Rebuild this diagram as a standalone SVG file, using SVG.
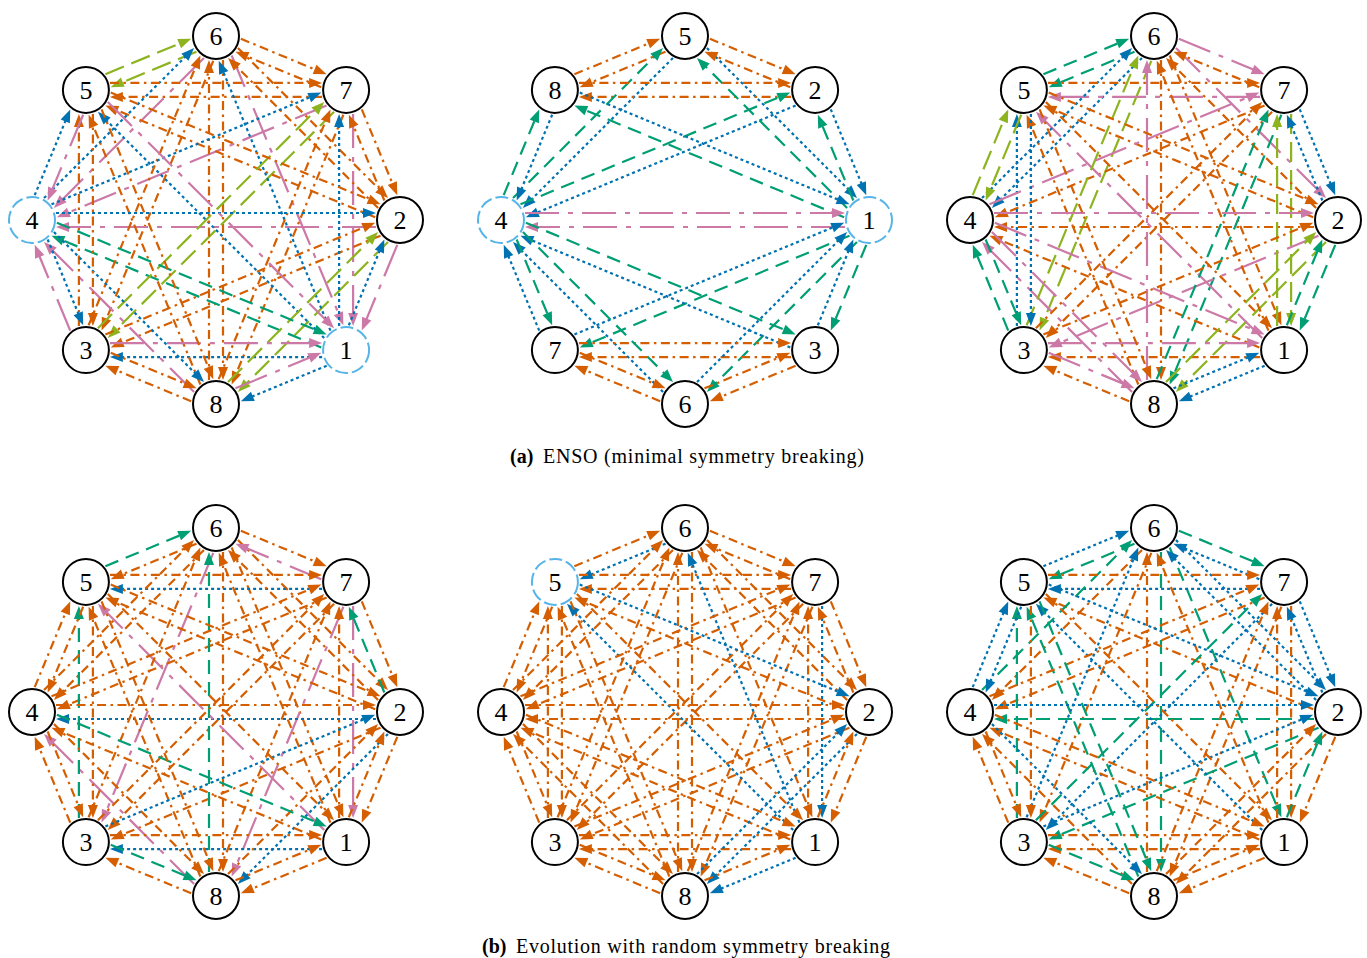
<svg xmlns="http://www.w3.org/2000/svg" width="1367" height="958" viewBox="0 0 1367 958">
<style>
  .edges use{fill:none;stroke-width:2.2}
  .o{stroke:#d55e00;stroke-dasharray:9 4.5 2.5 4.5;marker-end:url(#mo)}
  .b{stroke:#0072b2;stroke-dasharray:3 3;marker-end:url(#mb)}
  .g{stroke:#009e73;stroke-dasharray:14 8;marker-end:url(#mg)}
  .p{stroke:#cc79a7;stroke-dasharray:34 9 5 9;marker-end:url(#mp)}
  .l{stroke:#8db41e;stroke-dasharray:20 8;marker-end:url(#ml)}
  .node circle{fill:#fff;stroke:#000;stroke-width:2}
  .node.hl circle{stroke:#56b4e9;stroke-dasharray:13 4}
  .node text{font-family:"Liberation Serif","Times New Roman",serif;font-size:26px;text-anchor:middle;fill:#000}
  .cap{font-family:"Liberation Serif","Times New Roman",serif;font-size:20px;fill:#000}
</style>
<defs>
  <marker id="mo" markerUnits="userSpaceOnUse" markerWidth="14" markerHeight="11" refX="2" refY="5" orient="auto" overflow="visible"><path d="M0,0L13,5L0,10z" fill="#d55e00"/></marker>
  <marker id="mb" markerUnits="userSpaceOnUse" markerWidth="14" markerHeight="11" refX="2" refY="5" orient="auto" overflow="visible"><path d="M0,0L13,5L0,10z" fill="#0072b2"/></marker>
  <marker id="mg" markerUnits="userSpaceOnUse" markerWidth="14" markerHeight="11" refX="2" refY="5" orient="auto" overflow="visible"><path d="M0,0L13,5L0,10z" fill="#009e73"/></marker>
  <marker id="mp" markerUnits="userSpaceOnUse" markerWidth="14" markerHeight="11" refX="2" refY="5" orient="auto" overflow="visible"><path d="M0,0L13,5L0,10z" fill="#cc79a7"/></marker>
  <marker id="ml" markerUnits="userSpaceOnUse" markerWidth="14" markerHeight="11" refX="2" refY="5" orient="auto" overflow="visible"><path d="M0,0L13,5L0,10z" fill="#8db41e"/></marker>
  <!-- directed edge from the top slot to slot k of the octagon (radius 184), shifted to its left -->
  <path id="s1" d="M24.85,-181.29L100.45,-149.97"/>
  <path id="s2" d="M21.92,-171.98L164.2,-29.7"/>
  <path id="s3" d="M15.65,-164.51L123.19,95.09"/>
  <path id="s4" d="M7,-160L7,149"/>
  <path id="s5" d="M-2.71,-159.15L-110.25,100.45"/>
  <path id="s6" d="M-12.02,-162.08L-154.3,-19.8"/>
  <path id="s7" d="M-19.49,-168.35L-95.09,-137.03"/>
</defs>

<!-- ===== (a) left ===== -->
<g id="a1-edges" class="edges" transform="translate(216,220)">
  <g><use href="#s1" class="o"/><use href="#s2" class="o"/><use href="#s3" class="p"/><use href="#s4" class="o"/><use href="#s5" class="o"/><use href="#s6" class="p"/><use href="#s7" class="l"/></g>
  <g transform="rotate(45)"><use href="#s1" class="o"/><use href="#s2" class="p"/><use href="#s3" class="o"/><use href="#s4" class="l"/><use href="#s5" class="p"/><use href="#s6" class="o"/><use href="#s7" class="o"/></g>
  <g transform="rotate(90)"><use href="#s1" class="p"/><use href="#s2" class="l"/><use href="#s3" class="o"/><use href="#s4" class="p"/><use href="#s5" class="o"/><use href="#s6" class="o"/><use href="#s7" class="o"/></g>
  <g transform="rotate(135)"><use href="#s1" class="b"/><use href="#s2" class="b"/><use href="#s3" class="g"/><use href="#s4" class="b"/><use href="#s5" class="b"/><use href="#s6" class="b"/><use href="#s7" class="b"/></g>
  <g transform="rotate(180)"><use href="#s1" class="o"/><use href="#s2" class="p"/><use href="#s3" class="o"/><use href="#s4" class="o"/><use href="#s5" class="o"/><use href="#s6" class="l"/><use href="#s7" class="p"/></g>
  <g transform="rotate(225)"><use href="#s1" class="p"/><use href="#s2" class="o"/><use href="#s3" class="o"/><use href="#s4" class="l"/><use href="#s5" class="o"/><use href="#s6" class="p"/><use href="#s7" class="o"/></g>
  <g transform="rotate(270)"><use href="#s1" class="b"/><use href="#s2" class="b"/><use href="#s3" class="b"/><use href="#s4" class="b"/><use href="#s5" class="g"/><use href="#s6" class="b"/><use href="#s7" class="b"/></g>
  <g transform="rotate(315)"><use href="#s1" class="l"/><use href="#s2" class="o"/><use href="#s3" class="o"/><use href="#s4" class="p"/><use href="#s5" class="o"/><use href="#s6" class="o"/><use href="#s7" class="p"/></g>
</g>
<g id="a1-n6" class="node" transform="translate(216,36)"><circle r="23"/><text y="9">6</text></g>
<g id="a1-n7" class="node" transform="translate(346.1,89.9)"><circle r="23"/><text y="9">7</text></g>
<g id="a1-n2" class="node" transform="translate(400,220)"><circle r="23"/><text y="9">2</text></g>
<g id="a1-n1" class="node hl" transform="translate(346.1,350.1)"><circle r="23"/><text y="9">1</text></g>
<g id="a1-n8" class="node" transform="translate(216,404)"><circle r="23"/><text y="9">8</text></g>
<g id="a1-n3" class="node" transform="translate(85.9,350.1)"><circle r="23"/><text y="9">3</text></g>
<g id="a1-n4" class="node hl" transform="translate(32,220)"><circle r="23"/><text y="9">4</text></g>
<g id="a1-n5" class="node" transform="translate(85.9,89.9)"><circle r="23"/><text y="9">5</text></g>

<!-- ===== (a) middle ===== -->
<g id="a2-edges" class="edges" transform="translate(685,220)">
  <g><use href="#s7" class="o"/><use href="#s1" class="o"/><use href="#s6" class="b"/><use href="#s2" class="b"/></g>
  <g transform="rotate(45)"><use href="#s7" class="o"/><use href="#s6" class="o"/><use href="#s5" class="b"/><use href="#s1" class="b"/></g>
  <g transform="rotate(90)"><use href="#s6" class="g"/><use href="#s5" class="g"/><use href="#s7" class="g"/><use href="#s4" class="p"/><use href="#s3" class="g"/><use href="#s2" class="g"/><use href="#s1" class="g"/></g>
  <g transform="rotate(135)"><use href="#s3" class="b"/><use href="#s7" class="b"/><use href="#s2" class="o"/><use href="#s1" class="o"/></g>
  <g transform="rotate(180)"><use href="#s2" class="b"/><use href="#s6" class="b"/><use href="#s1" class="o"/><use href="#s7" class="o"/></g>
  <g transform="rotate(225)"><use href="#s1" class="b"/><use href="#s5" class="b"/><use href="#s6" class="o"/><use href="#s7" class="o"/></g>
  <g transform="rotate(270)"><use href="#s2" class="g"/><use href="#s3" class="g"/><use href="#s1" class="g"/><use href="#s4" class="p"/><use href="#s7" class="g"/><use href="#s6" class="g"/><use href="#s5" class="g"/></g>
  <g transform="rotate(315)"><use href="#s1" class="o"/><use href="#s2" class="o"/><use href="#s7" class="b"/><use href="#s3" class="b"/></g>
</g>
<g id="a2-n5" class="node" transform="translate(685,36)"><circle r="23"/><text y="9">5</text></g>
<g id="a2-n2" class="node" transform="translate(815.1,89.9)"><circle r="23"/><text y="9">2</text></g>
<g id="a2-n1" class="node hl" transform="translate(869,220)"><circle r="23"/><text y="9">1</text></g>
<g id="a2-n3" class="node" transform="translate(815.1,350.1)"><circle r="23"/><text y="9">3</text></g>
<g id="a2-n6" class="node" transform="translate(685,404)"><circle r="23"/><text y="9">6</text></g>
<g id="a2-n7" class="node" transform="translate(554.9,350.1)"><circle r="23"/><text y="9">7</text></g>
<g id="a2-n4" class="node hl" transform="translate(501,220)"><circle r="23"/><text y="9">4</text></g>
<g id="a2-n8" class="node" transform="translate(554.9,89.9)"><circle r="23"/><text y="9">8</text></g>

<!-- ===== (a) right ===== -->
<g id="a3-edges" class="edges" transform="translate(1154,220)">
  <g><use href="#s1" class="p"/><use href="#s2" class="p"/><use href="#s3" class="o"/><use href="#s4" class="o"/><use href="#s5" class="l"/><use href="#s6" class="b"/><use href="#s7" class="g"/></g>
  <g transform="rotate(45)"><use href="#s1" class="b"/><use href="#s2" class="l"/><use href="#s3" class="g"/><use href="#s4" class="o"/><use href="#s5" class="o"/><use href="#s6" class="p"/><use href="#s7" class="o"/></g>
  <g transform="rotate(90)"><use href="#s1" class="g"/><use href="#s2" class="l"/><use href="#s3" class="p"/><use href="#s4" class="o"/><use href="#s5" class="o"/><use href="#s6" class="o"/><use href="#s7" class="b"/></g>
  <g transform="rotate(135)"><use href="#s1" class="b"/><use href="#s2" class="o"/><use href="#s3" class="o"/><use href="#s4" class="p"/><use href="#s5" class="o"/><use href="#s6" class="l"/><use href="#s7" class="g"/></g>
  <g transform="rotate(180)"><use href="#s1" class="o"/><use href="#s2" class="p"/><use href="#s3" class="o"/><use href="#s4" class="p"/><use href="#s5" class="g"/><use href="#s6" class="l"/><use href="#s7" class="b"/></g>
  <g transform="rotate(225)"><use href="#s1" class="g"/><use href="#s2" class="b"/><use href="#s3" class="l"/><use href="#s4" class="o"/><use href="#s5" class="o"/><use href="#s6" class="p"/><use href="#s7" class="p"/></g>
  <g transform="rotate(270)"><use href="#s1" class="l"/><use href="#s2" class="b"/><use href="#s3" class="p"/><use href="#s4" class="p"/><use href="#s5" class="p"/><use href="#s6" class="p"/><use href="#s7" class="g"/></g>
  <g transform="rotate(315)"><use href="#s1" class="g"/><use href="#s2" class="o"/><use href="#s3" class="o"/><use href="#s4" class="o"/><use href="#s5" class="o"/><use href="#s6" class="b"/><use href="#s7" class="l"/></g>
</g>
<g id="a3-n6" class="node" transform="translate(1154,36)"><circle r="23"/><text y="9">6</text></g>
<g id="a3-n7" class="node" transform="translate(1284.1,89.9)"><circle r="23"/><text y="9">7</text></g>
<g id="a3-n2" class="node" transform="translate(1338,220)"><circle r="23"/><text y="9">2</text></g>
<g id="a3-n1" class="node" transform="translate(1284.1,350.1)"><circle r="23"/><text y="9">1</text></g>
<g id="a3-n8" class="node" transform="translate(1154,404)"><circle r="23"/><text y="9">8</text></g>
<g id="a3-n3" class="node" transform="translate(1023.9,350.1)"><circle r="23"/><text y="9">3</text></g>
<g id="a3-n4" class="node" transform="translate(970,220)"><circle r="23"/><text y="9">4</text></g>
<g id="a3-n5" class="node" transform="translate(1023.9,89.9)"><circle r="23"/><text y="9">5</text></g>

<text class="cap" x="510" y="463" font-weight="bold">(a)</text>
<text class="cap" x="543" y="463" textLength="321" lengthAdjust="spacing">ENSO (minimal symmetry breaking)</text>

<!-- ===== (b) left ===== -->
<g id="b1-edges" class="edges" transform="translate(216,712)">
  <g><use href="#s1" class="o"/><use href="#s2" class="o"/><use href="#s3" class="o"/><use href="#s4" class="o"/><use href="#s5" class="p"/><use href="#s6" class="o"/><use href="#s7" class="o"/></g>
  <g transform="rotate(45)"><use href="#s1" class="o"/><use href="#s2" class="p"/><use href="#s3" class="p"/><use href="#s4" class="o"/><use href="#s5" class="o"/><use href="#s6" class="b"/><use href="#s7" class="p"/></g>
  <g transform="rotate(90)"><use href="#s1" class="o"/><use href="#s2" class="b"/><use href="#s3" class="o"/><use href="#s4" class="b"/><use href="#s5" class="o"/><use href="#s6" class="o"/><use href="#s7" class="g"/></g>
  <g transform="rotate(135)"><use href="#s1" class="o"/><use href="#s2" class="b"/><use href="#s3" class="o"/><use href="#s4" class="p"/><use href="#s5" class="o"/><use href="#s6" class="o"/><use href="#s7" class="o"/></g>
  <g transform="rotate(180)"><use href="#s1" class="o"/><use href="#s2" class="p"/><use href="#s3" class="o"/><use href="#s4" class="g"/><use href="#s5" class="o"/><use href="#s6" class="o"/><use href="#s7" class="o"/></g>
  <g transform="rotate(225)"><use href="#s1" class="o"/><use href="#s2" class="g"/><use href="#s3" class="o"/><use href="#s4" class="o"/><use href="#s5" class="b"/><use href="#s6" class="o"/><use href="#s7" class="g"/></g>
  <g transform="rotate(270)"><use href="#s1" class="o"/><use href="#s2" class="o"/><use href="#s3" class="o"/><use href="#s4" class="o"/><use href="#s5" class="g"/><use href="#s6" class="o"/><use href="#s7" class="o"/></g>
  <g transform="rotate(315)"><use href="#s1" class="g"/><use href="#s2" class="o"/><use href="#s3" class="o"/><use href="#s4" class="o"/><use href="#s5" class="o"/><use href="#s6" class="o"/><use href="#s7" class="o"/></g>
</g>
<g id="b1-n6" class="node" transform="translate(216,528)"><circle r="23"/><text y="9">6</text></g>
<g id="b1-n7" class="node" transform="translate(346.1,581.9)"><circle r="23"/><text y="9">7</text></g>
<g id="b1-n2" class="node" transform="translate(400,712)"><circle r="23"/><text y="9">2</text></g>
<g id="b1-n1" class="node" transform="translate(346.1,842.1)"><circle r="23"/><text y="9">1</text></g>
<g id="b1-n8" class="node" transform="translate(216,896)"><circle r="23"/><text y="9">8</text></g>
<g id="b1-n3" class="node" transform="translate(85.9,842.1)"><circle r="23"/><text y="9">3</text></g>
<g id="b1-n4" class="node" transform="translate(32,712)"><circle r="23"/><text y="9">4</text></g>
<g id="b1-n5" class="node" transform="translate(85.9,581.9)"><circle r="23"/><text y="9">5</text></g>

<!-- ===== (b) middle ===== -->
<g id="b2-edges" class="edges" transform="translate(685,712)">
  <g><use href="#s1" class="o"/><use href="#s2" class="o"/><use href="#s3" class="o"/><use href="#s4" class="o"/><use href="#s5" class="o"/><use href="#s6" class="o"/><use href="#s7" class="b"/></g>
  <g transform="rotate(45)"><use href="#s1" class="o"/><use href="#s2" class="b"/><use href="#s3" class="o"/><use href="#s4" class="o"/><use href="#s5" class="o"/><use href="#s6" class="o"/><use href="#s7" class="o"/></g>
  <g transform="rotate(90)"><use href="#s1" class="o"/><use href="#s2" class="b"/><use href="#s3" class="o"/><use href="#s4" class="o"/><use href="#s5" class="o"/><use href="#s6" class="o"/><use href="#s7" class="o"/></g>
  <g transform="rotate(135)"><use href="#s1" class="b"/><use href="#s2" class="o"/><use href="#s3" class="o"/><use href="#s4" class="b"/><use href="#s5" class="b"/><use href="#s6" class="o"/><use href="#s7" class="o"/></g>
  <g transform="rotate(180)"><use href="#s1" class="o"/><use href="#s2" class="o"/><use href="#s3" class="o"/><use href="#s4" class="o"/><use href="#s5" class="o"/><use href="#s6" class="b"/><use href="#s7" class="o"/></g>
  <g transform="rotate(225)"><use href="#s1" class="o"/><use href="#s2" class="o"/><use href="#s3" class="o"/><use href="#s4" class="o"/><use href="#s5" class="o"/><use href="#s6" class="o"/><use href="#s7" class="o"/></g>
  <g transform="rotate(270)"><use href="#s1" class="o"/><use href="#s2" class="o"/><use href="#s3" class="o"/><use href="#s4" class="o"/><use href="#s5" class="o"/><use href="#s6" class="o"/><use href="#s7" class="o"/></g>
  <g transform="rotate(315)"><use href="#s1" class="o"/><use href="#s2" class="o"/><use href="#s3" class="b"/><use href="#s4" class="o"/><use href="#s5" class="o"/><use href="#s6" class="o"/><use href="#s7" class="o"/></g>
</g>
<g id="b2-n6" class="node" transform="translate(685,528)"><circle r="23"/><text y="9">6</text></g>
<g id="b2-n7" class="node" transform="translate(815.1,581.9)"><circle r="23"/><text y="9">7</text></g>
<g id="b2-n2" class="node" transform="translate(869,712)"><circle r="23"/><text y="9">2</text></g>
<g id="b2-n1" class="node" transform="translate(815.1,842.1)"><circle r="23"/><text y="9">1</text></g>
<g id="b2-n8" class="node" transform="translate(685,896)"><circle r="23"/><text y="9">8</text></g>
<g id="b2-n3" class="node" transform="translate(554.9,842.1)"><circle r="23"/><text y="9">3</text></g>
<g id="b2-n4" class="node" transform="translate(501,712)"><circle r="23"/><text y="9">4</text></g>
<g id="b2-n5" class="node hl" transform="translate(554.9,581.9)"><circle r="23"/><text y="9">5</text></g>

<!-- ===== (b) right ===== -->
<g id="b3-edges" class="edges" transform="translate(1154,712)">
  <g><use href="#s1" class="g"/><use href="#s2" class="b"/><use href="#s3" class="g"/><use href="#s4" class="g"/><use href="#s5" class="o"/><use href="#s6" class="o"/><use href="#s7" class="g"/></g>
  <g transform="rotate(45)"><use href="#s1" class="b"/><use href="#s2" class="o"/><use href="#s3" class="o"/><use href="#s4" class="b"/><use href="#s5" class="o"/><use href="#s6" class="b"/><use href="#s7" class="b"/></g>
  <g transform="rotate(90)"><use href="#s1" class="o"/><use href="#s2" class="o"/><use href="#s3" class="g"/><use href="#s4" class="g"/><use href="#s5" class="o"/><use href="#s6" class="b"/><use href="#s7" class="b"/></g>
  <g transform="rotate(135)"><use href="#s1" class="o"/><use href="#s2" class="o"/><use href="#s3" class="o"/><use href="#s4" class="b"/><use href="#s5" class="o"/><use href="#s6" class="o"/><use href="#s7" class="g"/></g>
  <g transform="rotate(180)"><use href="#s1" class="o"/><use href="#s2" class="o"/><use href="#s3" class="g"/><use href="#s4" class="o"/><use href="#s5" class="o"/><use href="#s6" class="o"/><use href="#s7" class="o"/></g>
  <g transform="rotate(225)"><use href="#s1" class="o"/><use href="#s2" class="g"/><use href="#s3" class="b"/><use href="#s4" class="g"/><use href="#s5" class="b"/><use href="#s6" class="o"/><use href="#s7" class="g"/></g>
  <g transform="rotate(270)"><use href="#s1" class="b"/><use href="#s2" class="g"/><use href="#s3" class="o"/><use href="#s4" class="b"/><use href="#s5" class="o"/><use href="#s6" class="b"/><use href="#s7" class="o"/></g>
  <g transform="rotate(315)"><use href="#s1" class="b"/><use href="#s2" class="o"/><use href="#s3" class="b"/><use href="#s4" class="o"/><use href="#s5" class="g"/><use href="#s6" class="o"/><use href="#s7" class="b"/></g>
</g>
<g id="b3-n6" class="node" transform="translate(1154,528)"><circle r="23"/><text y="9">6</text></g>
<g id="b3-n7" class="node" transform="translate(1284.1,581.9)"><circle r="23"/><text y="9">7</text></g>
<g id="b3-n2" class="node" transform="translate(1338,712)"><circle r="23"/><text y="9">2</text></g>
<g id="b3-n1" class="node" transform="translate(1284.1,842.1)"><circle r="23"/><text y="9">1</text></g>
<g id="b3-n8" class="node" transform="translate(1154,896)"><circle r="23"/><text y="9">8</text></g>
<g id="b3-n3" class="node" transform="translate(1023.9,842.1)"><circle r="23"/><text y="9">3</text></g>
<g id="b3-n4" class="node" transform="translate(970,712)"><circle r="23"/><text y="9">4</text></g>
<g id="b3-n5" class="node" transform="translate(1023.9,581.9)"><circle r="23"/><text y="9">5</text></g>

<text class="cap" x="482" y="953" font-weight="bold">(b)</text>
<text class="cap" x="516" y="953" textLength="374" lengthAdjust="spacing">Evolution with random symmetry breaking</text>
</svg>
